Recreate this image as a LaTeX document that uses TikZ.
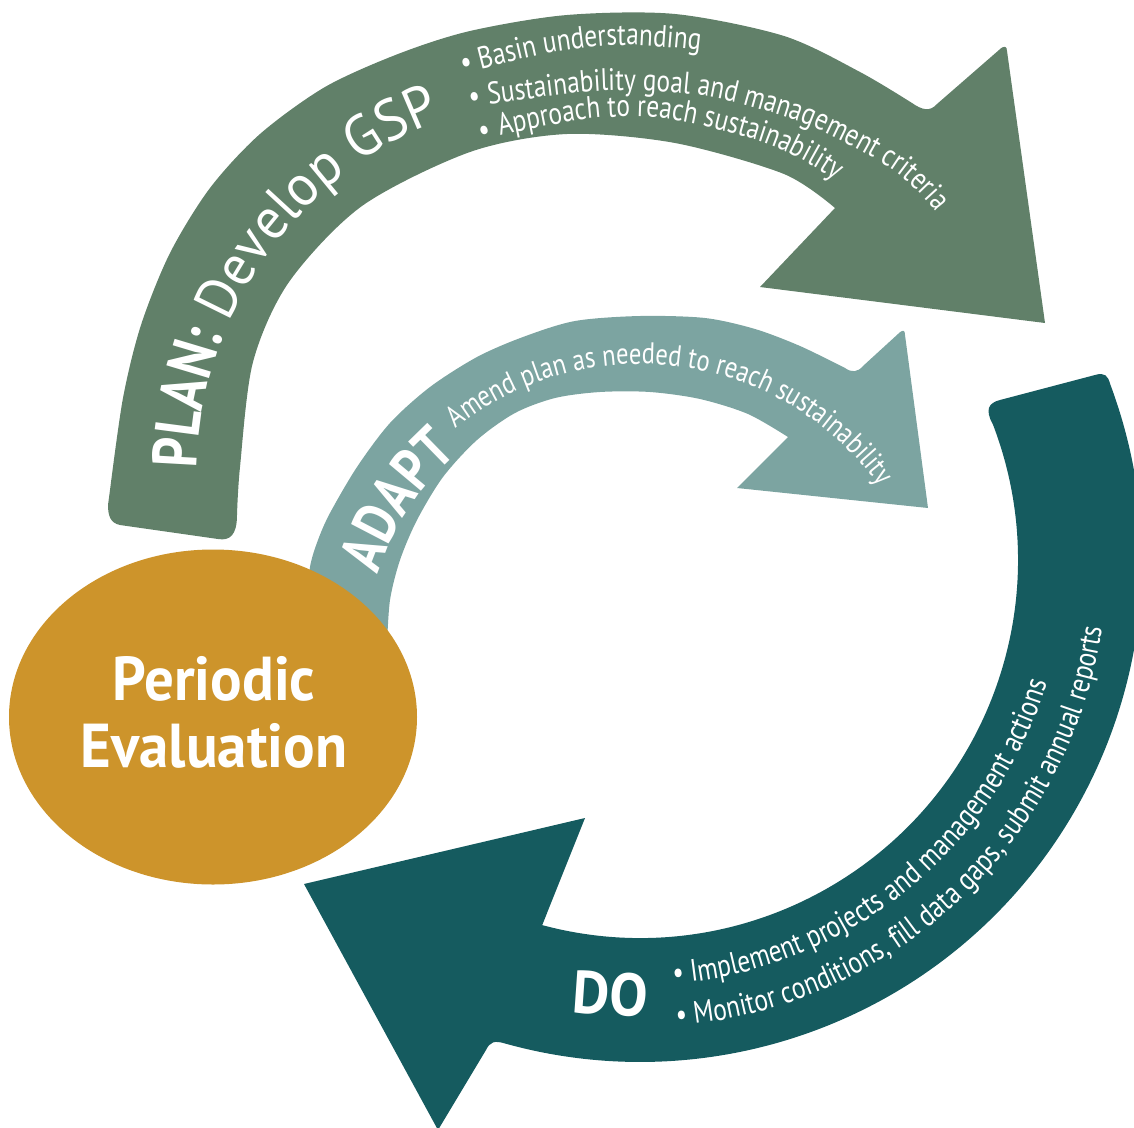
\documentclass[tikz,border=0pt]{standalone}
\usepackage{fontspec}
\setmainfont{PT Sans}[FakeStretch=0.82]
\newfontfamily\wideface{PT Sans}[FakeStretch=0.95]
\usetikzlibrary{shapes.geometric,decorations.text}
\definecolor{plancol}{RGB}{97,128,105}
\definecolor{adaptcol}{RGB}{124,164,161}
\definecolor{docol}{RGB}{21,91,95}
\definecolor{evalcol}{RGB}{205,148,43}
\newcommand\fPlanBold{\fontsize{63}{63}\selectfont\bfseries}
\newcommand\fPlanReg{\wideface\fontsize{58}{58}\selectfont\mdseries}
\newcommand\fAdaptBold{\fontsize{60}{60}\selectfont\bfseries}
\newcommand\fDoBold{\wideface\fontsize{60}{60}\selectfont\bfseries}
\newcommand\fSmall{\fontsize{31}{31}\selectfont\mdseries}
\newcommand\fMid{\fontsize{30}{30}\selectfont\mdseries}
\newcommand\fEval{\wideface\fontsize{62}{62}\selectfont\bfseries}
\begin{document}
\begin{tikzpicture}[x=1pt,y=-1pt,
  curvetext/.style={decorate,decoration={text along path,text color=white,text={#1}}},
  evaltext/.style={font=\fEval,text=white,anchor=base,inner sep=0pt}]
\useasboundingbox (0,0) rectangle (1134,1127);
\clip (0,0) rectangle (1134,1127);

% ---------- PLAN arrow ----------
\fill[plancol]
  plot[smooth] coordinates {(110,490) (123,398) (141,325) (170,253) (210,188) (260,134) (325,87) (398,54) (470,31) (567,15) (675,14) (784,36) (860,72) (912,103)}
  .. controls (922,110) and (930,112) .. (937,104)
  -- (999,50) .. controls (1004,45) and (1007,46) .. (1007,51)
  -- (1045,323) -- (760,287) -- (835,208)
  -- plot[smooth] coordinates {(835,208) (784,174) (675,143) (567,134) (470,152) (362,206) (289,282) (253,362) (240,467) (237,515)}
  .. controls (237,535) and (230,541) .. (218,539)
  -- (120,525) .. controls (110,523) and (108,515) .. (108,505) -- cycle;

% ---------- ADAPT arrow ----------
\fill[adaptcol]
  plot[smooth] coordinates {(304,640) (306,610) (310,567) (318,540) (330,513) (357,467) (390,423) (430,387) (477,357) (523,337) (575,321) (640,316) (705,318) (755,329) (800,346) (845,368)}
  .. controls (852,373) and (858,372) .. (863,366)
  -- (898,334) .. controls (903,329) and (905,330) .. (905,335)
  -- (928,508) -- (737,488) -- (788,437)
  -- plot[smooth] coordinates {(788,437) (748,414) (700,399) (650,392) (600,392) (555,398) (515,413) (477,440) (443,477) (417,520) (400,560) (390,600) (387,645)}
  -- cycle;

% ---------- DO arrow ----------
\fill[docol]
  (992.9,424.5) .. controls (985,410) and (988,403) .. (1000,400)
  -- (1095,375) .. controls (1105,372) and (1108,376) .. (1110.2,384.2)
  arc[start angle=-20.5, end angle=105.5, radius=502]
  .. controls (494,1040) and (490,1042) .. (486,1050)
  -- (438,1130) -- (304,884) -- (585,818) -- (542.2,925.1)
  arc[start angle=105, end angle=-21, radius=378]
  -- cycle;

% ---------- texts on arrows ----------
\path[curvetext={|\fPlanBold|PLAN:|\fPlanReg| Develop GSP}]
  (197.1,468.4) arc[start angle=181, end angle=272, radius=381];
\path[curvetext={|\fSmall|• Basin understanding}]
  plot[smooth] coordinates {(463,74) (493,66) (550,53) (620,45) (697,50) (760,62) (820,82)};
\path[curvetext={|\fSmall|• Sustainability goal and management criteria}]
  plot[smooth] coordinates {(471,108) (497,103) (600,91) (680,93) (730,101) (800,122) (850,145) (900,175) (935,210) (960,250) (975,290)};
\path[curvetext={|\fSmall|• Approach to reach sustainability}]
  plot[smooth] coordinates {(483,142) (508,134) (587,119) (647,117) (703,126) (770,145) (823,172) (870,210) (900,250)};

\path[curvetext={|\fAdaptBold|ADAPT}]
  (377.5,574.7) arc[start angle=-162, end angle=-115, radius=276];
\path[curvetext={|\fMid|Amend plan as needed to reach sustainability}]
  (455.7,428.3) arc[start angle=-128.5, end angle=0, radius=296];

\node[font=\fDoBold,text=white,anchor=base,inner sep=0pt,rotate=-4] (dotxt) at (609,1015) {DO};
\path[curvetext={|\fSmall|• Implement projects and management actions}]
  (673.3,983.7) arc[start angle=85.5, end angle=-15, radius=425];
\path[curvetext={|\fSmall|• Monitor conditions, fill data gaps, submit annual reports}]
  (676.6,1025.6) arc[start angle=85.5, end angle=-20, radius=467];

% ---------- Periodic Evaluation ----------
\node[ellipse,fill=evalcol,inner sep=0pt,minimum width=408pt,minimum height=335pt] (eval) at (213,717) {};
\node[evaltext] (pe1) at (214,700) {Periodic};
\node[evaltext] (pe2) at (214,767) {Evaluation};
\end{tikzpicture}
\end{document}
